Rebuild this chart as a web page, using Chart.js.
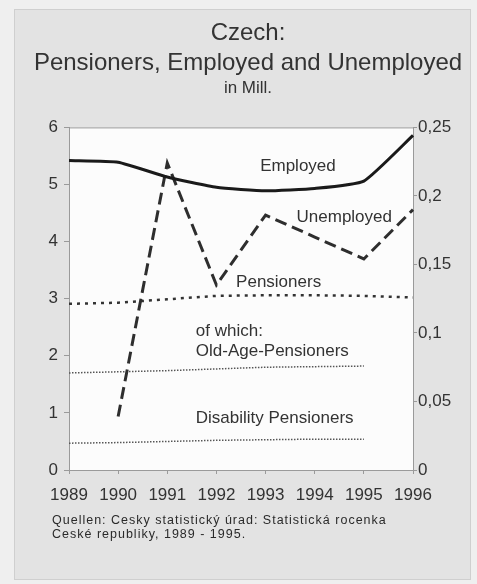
<!DOCTYPE html>
<html>
<head>
<meta charset="utf-8">
<script src="https://cdn.jsdelivr.net/npm/chart.js@4/dist/chart.umd.min.js"></script>
<style>
  html, body { margin: 0; padding: 0; background: #efefef; }
  #wrap { width: 477px; height: 584px; }
</style>
</head>
<body>
<div id="wrap"><canvas id="c" width="477" height="584"></canvas></div>
<script>
// ---- data ----
const years = ["1989", "1990", "1991", "1992", "1993", "1994", "1995", "1996"];
const employed = [5.42, 5.39, 5.13, 4.95, 4.89, 4.93, 5.06, 5.86];
const unemployed = [null, 0.039, 0.224, 0.135, 0.186, 0.170, 0.154, 0.190];
const pensioners = [2.91, 2.93, 2.99, 3.05, 3.06, 3.06, 3.05, 3.02];
const oldAgePensioners = [1.70, 1.72, 1.74, 1.77, 1.80, 1.81, 1.82, null];
const disabilityPensioners = [0.47, 0.48, 0.50, 0.52, 0.53, 0.54, 0.54, null];
const leftTickLabels = ["0", "1", "2", "3", "4", "5", "6"];
const rightTickLabels = ["0", "0,05", "0,1", "0,15", "0,2", "0,25"];
const titleLines = ["Czech:", "Pensioners, Employed and Unemployed"];
const subtitleText = "in Mill.";
const sourceLines = ["Quellen: Cesky statistický úrad: Statistická rocenka", "Ceské republiky, 1989 - 1995."];
// in-plot series labels: [text, x (year index), y (left-axis value)]
const seriesLabels = [
  ["Employed", 3.89, 5.31],
  ["Unemployed", 4.63, 4.43],
  ["Pensioners", 3.40, 3.28],
  ["of which:", 2.58, 2.43],
  ["Old-Age-Pensioners", 2.58, 2.08],
  ["Disability Pensioners", 2.58, 0.90]
];

const FONT = "'Liberation Sans', Arial, sans-serif";
const TEXT = "#333";
const AXIS = "#9a9a9a";

const panelPlugin = {
  id: "panel",
  beforeDraw(chart) {
    const ctx = chart.ctx, a = chart.chartArea;
    ctx.save();
    ctx.fillStyle = "#efefef";
    ctx.fillRect(0, 0, chart.width, chart.height);
    ctx.fillStyle = "#e3e3e3";
    ctx.fillRect(14, 9, 457, 571);
    ctx.strokeStyle = "#cfcfcf";
    ctx.lineWidth = 1;
    ctx.strokeRect(14.5, 9.5, 456, 570);
    ctx.fillStyle = "#fcfcfc";
    ctx.fillRect(a.left, a.top, a.right - a.left, a.bottom - a.top);
    ctx.restore();
  },
  afterDatasetsDraw(chart) {
    const ctx = chart.ctx, a = chart.chartArea;
    const xs = chart.scales.x, ys = chart.scales.y;
    ctx.save();
    ctx.strokeStyle = AXIS;
    ctx.lineWidth = 1;
    ctx.beginPath();
    ctx.moveTo(a.left, a.top + 0.5);
    ctx.lineTo(a.right, a.top + 0.5);
    ctx.stroke();
    ctx.fillStyle = TEXT;
    ctx.font = "17px " + FONT;
    ctx.textAlign = "left";
    ctx.textBaseline = "middle";
    seriesLabels.forEach(([t, xi, yv]) => {
      ctx.fillText(t, xs.getPixelForValue(xi), ys.getPixelForValue(yv));
    });
    ctx.restore();
  },
  afterDraw(chart) {
    const ctx = chart.ctx;
    ctx.save();
    ctx.fillStyle = "#2a2a2a";
    ctx.font = "12.5px " + FONT;
    if ("letterSpacing" in ctx) ctx.letterSpacing = "1px";
    ctx.textAlign = "left";
    ctx.textBaseline = "middle";
    ctx.fillText(sourceLines[0], 52, 521);
    ctx.fillText(sourceLines[1], 52, 535);
    ctx.restore();
  }
};

new Chart(document.getElementById("c"), {
  type: "line",
  data: {
    labels: years,
    datasets: [
      { label: "Employed", data: employed, yAxisID: "y", borderColor: "#1a1a1a", borderWidth: 3, tension: 0.15 },
      { label: "Unemployed", data: unemployed, yAxisID: "y1", borderColor: "#2e2e2e", borderWidth: 3, borderDash: [12, 6], tension: 0 },
      { label: "Pensioners", data: pensioners, yAxisID: "y", borderColor: "#333", borderWidth: 2.5, borderDash: [3, 5], tension: 0 },
      { label: "Old-Age-Pensioners", data: oldAgePensioners, yAxisID: "y", borderColor: "#555", borderWidth: 1.5, borderDash: [1.5, 1.5], tension: 0 },
      { label: "Disability Pensioners", data: disabilityPensioners, yAxisID: "y", borderColor: "#555", borderWidth: 1.5, borderDash: [1.5, 1.5], tension: 0 }
    ]
  },
  options: {
    responsive: false,
    devicePixelRatio: 1,
    animation: false,
    elements: { point: { radius: 0, hoverRadius: 0 } },
    layout: { padding: { left: 19, right: 0, top: 0, bottom: 0 } },
    plugins: {
      legend: { display: false },
      tooltip: { enabled: false },
      title: {
        display: true, text: titleLines, color: TEXT,
        font: { family: FONT, size: 24, weight: "normal", lineHeight: 1.25 },
        padding: { top: 18, bottom: 0 }
      },
      subtitle: {
        display: true, text: subtitleText, color: TEXT,
        font: { family: FONT, size: 17, weight: "normal", lineHeight: 1.2 },
        padding: { top: 0, bottom: 29 }
      }
    },
    scales: {
      x: {
        type: "category", offset: false,
        grid: { display: true, drawOnChartArea: false, tickLength: 4, color: AXIS },
        border: { display: true, color: AXIS },
        ticks: { color: TEXT, font: { family: FONT, size: 17 }, padding: 11, maxRotation: 0, autoSkip: false },
        afterFit(s) { s.height = 114; }
      },
      y: {
        position: "left", min: 0, max: 6,
        grid: { display: true, drawOnChartArea: false, tickLength: 5, color: AXIS },
        border: { display: true, color: AXIS },
        ticks: { stepSize: 1, color: TEXT, font: { family: FONT, size: 17 }, padding: 6,
                 callback: (v, i) => leftTickLabels[i] },
        afterFit(s) { s.width = 50; }
      },
      y1: {
        position: "right", min: 0, max: 0.25,
        grid: { display: true, drawOnChartArea: false, tickLength: 4, color: AXIS },
        border: { display: true, color: AXIS },
        ticks: { stepSize: 0.05, color: TEXT, font: { family: FONT, size: 17 }, padding: 1,
                 callback: (v, i) => rightTickLabels[i] },
        afterFit(s) { s.width = 64; }
      }
    }
  },
  plugins: [panelPlugin]
});
</script>
</body>
</html>
